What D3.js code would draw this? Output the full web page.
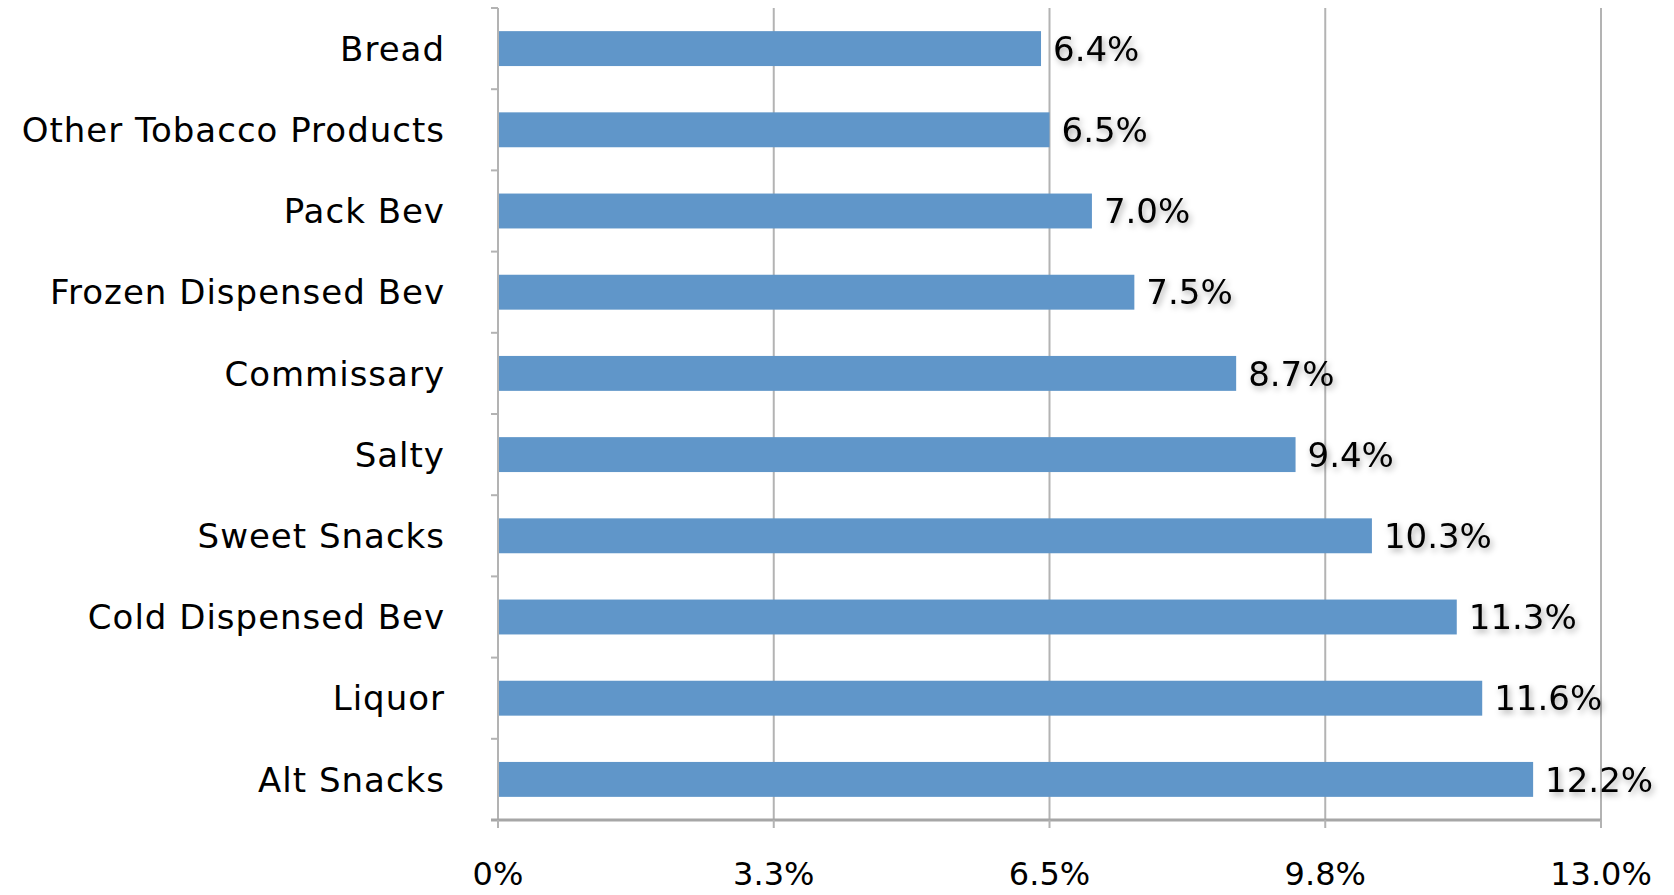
<!DOCTYPE html>
<html><head><meta charset="utf-8">
<script src="https://cdn.jsdelivr.net/npm/d3@7"></script>
<style>body{margin:0;background:#fff}svg{display:block}text{font-family:"DejaVu Sans",sans-serif}</style>
</head><body><svg id="c" width="1674" height="895"></svg>
<script>
const categories = ["Bread","Other Tobacco Products","Pack Bev","Frozen Dispensed Bev","Commissary","Salty","Sweet Snacks","Cold Dispensed Bev","Liquor","Alt Snacks"];
const values = [6.4,6.5,7.0,7.5,8.7,9.4,10.3,11.3,11.6,12.2];
const tickValues = [0,3.25,6.5,9.75,13];
const tickLabels = ["0%","3.3%","6.5%","9.8%","13.0%"];

const svg = d3.select("#c");
const L = 498, R = 1601, T = 8, B = 820;
const x = d3.scaleLinear().domain([0,13]).range([L,R]);
const y = d3.scaleBand().domain(categories).range([T,B]).paddingInner(0.57).paddingOuter(0.285);
const yb = d3.scaleBand().domain(categories).range([T,B]);

const defs = svg.append("defs");
const f = defs.append("filter").attr("id","sh").attr("x","-20%").attr("y","-40%").attr("width","150%").attr("height","200%");
f.append("feDropShadow").attr("dx",2).attr("dy",3).attr("stdDeviation",3).attr("flood-color","#000").attr("flood-opacity",0.35);

// gridlines
svg.append("g").selectAll("line").data(tickValues.slice(1)).join("line")
  .attr("x1",d=>x(d)).attr("x2",d=>x(d)).attr("y1",T).attr("y2",B)
  .attr("stroke","#b3b3b3").attr("stroke-width",2);

// bars
svg.append("g").selectAll("rect").data(values).join("rect")
  .attr("x",x(0)+1).attr("y",(d,i)=>y(categories[i]))
  .attr("width",d=>x(d)-x(0)-1).attr("height",y.bandwidth())
  .attr("fill","#6096c9");

// left axis
svg.append("line").attr("x1",L).attr("x2",L).attr("y1",T).attr("y2",B).attr("stroke","#b3b3b3").attr("stroke-width",2);
const bounds = categories.map(c=>yb(c)).concat([B]);
svg.append("g").selectAll("line").data(bounds).join("line")
  .attr("x1",L-7).attr("x2",L).attr("y1",d=>d).attr("y2",d=>d)
  .attr("stroke","#b3b3b3").attr("stroke-width",2);

// bottom axis
svg.append("line").attr("x1",L-7).attr("x2",R).attr("y1",B).attr("y2",B).attr("stroke","#a6a6a6").attr("stroke-width",3);
svg.append("g").selectAll("line").data(tickValues).join("line")
  .attr("x1",d=>x(d)).attr("x2",d=>x(d)).attr("y1",B).attr("y2",B+8)
  .attr("stroke","#b3b3b3").attr("stroke-width",2);

// x tick labels
svg.append("g").selectAll("text").data(tickValues).join("text")
  .attr("x",d=>x(d)).attr("y",885).attr("text-anchor","middle")
  .attr("font-size",32).attr("fill","#000").text((d,i)=>tickLabels[i]);

// category labels
svg.append("g").selectAll("text").data(categories).join("text")
  .attr("x",445).attr("y",d=>yb(d)+yb.bandwidth()/2).attr("dy","0.36em")
  .attr("text-anchor","end").attr("font-size",34).attr("letter-spacing",1).attr("fill","#000").text(d=>d);

// value labels
svg.append("g").selectAll("text").data(values).join("text")
  .attr("x",d=>x(d)+12).attr("y",(d,i)=>yb(categories[i])+yb.bandwidth()/2).attr("dy","0.36em")
  .attr("font-size",34).attr("fill","#000").attr("filter","url(#sh)")
  .text(d=>d.toFixed(1)+"%");
</script></body></html>
